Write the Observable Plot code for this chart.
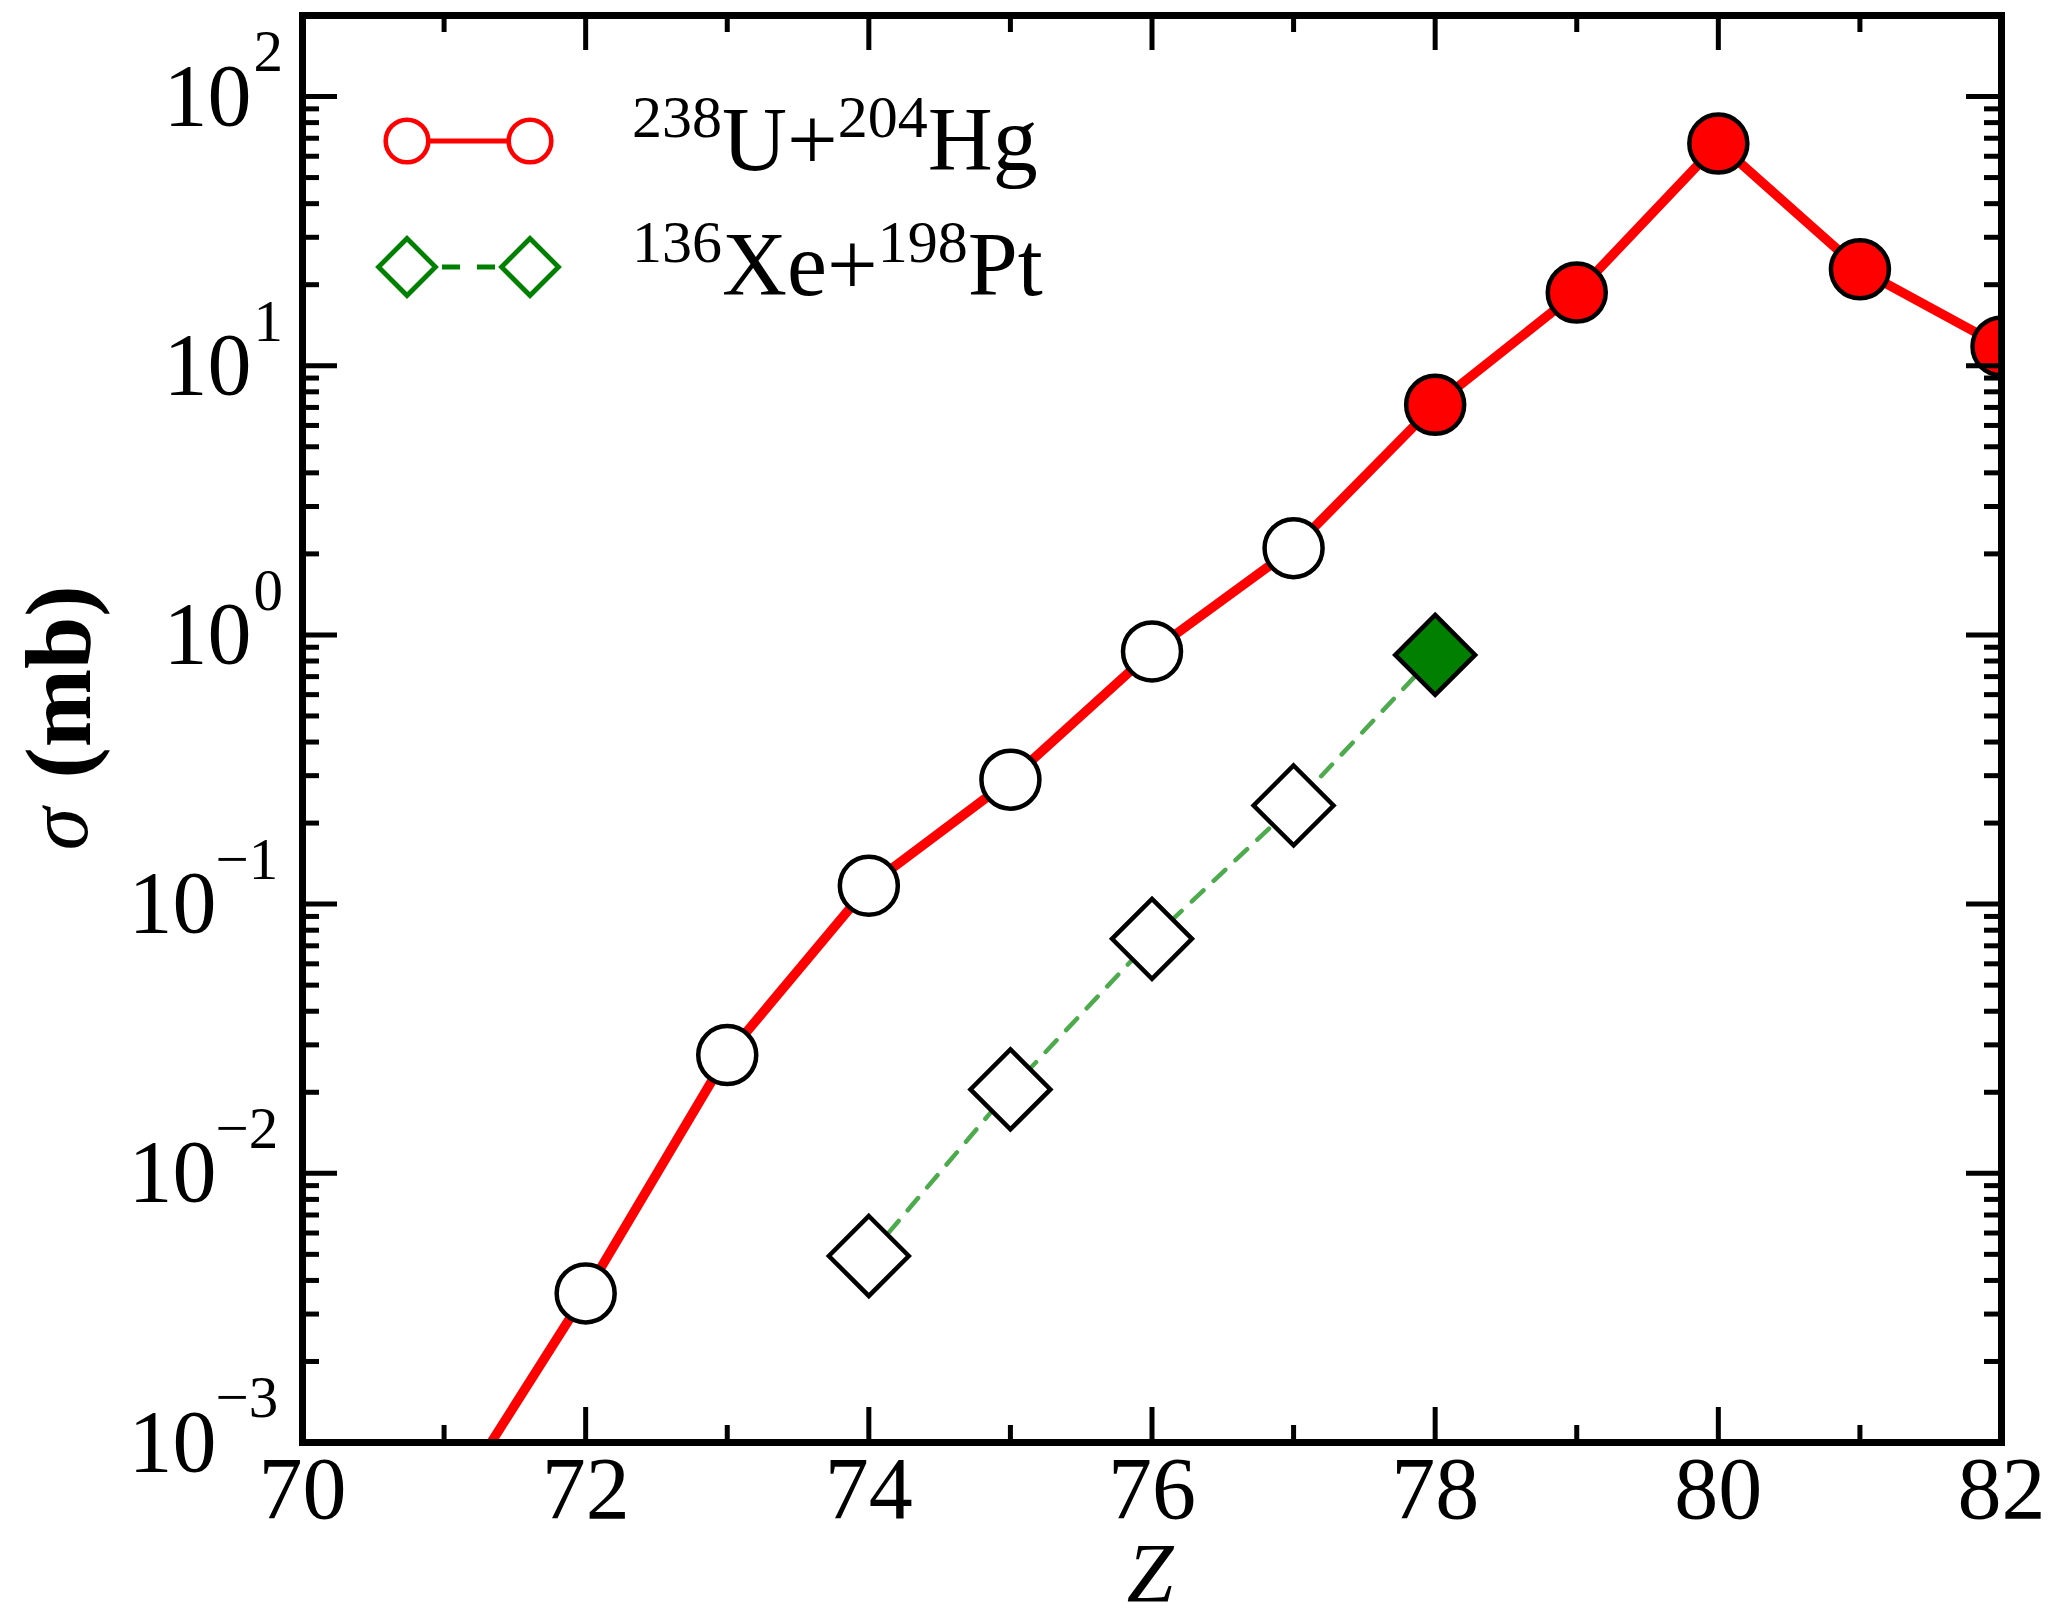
<!DOCTYPE html>
<html>
<head>
<meta charset="utf-8">
<script src="https://cdn.jsdelivr.net/npm/d3@7"></script>
<script src="https://cdn.jsdelivr.net/npm/@observablehq/plot@0.6"></script>
<style>
html, body { margin: 0; padding: 0; background: #fff; }
#chart svg { display: block; }
</style>
</head>
<body>
<div id="chart"></div>
<script>
// ---- data ----
const zU = [71, 72, 73, 74, 75, 76, 77, 78, 79, 80, 81, 82];
const sigmaU = [5.3e-4, 3.58e-3, 0.0275, 0.117, 0.290, 0.868, 2.10, 7.16, 18.7, 66.9, 22.8, 11.8];
const filledU = [false, false, false, false, false, false, false, true, true, true, true, true];

const zXe = [74, 75, 76, 77, 78];
const sigmaXe = [4.93e-3, 0.0205, 0.0743, 0.2325, 0.843];
const filledXe = [false, false, false, false, true];

const xMajorTicks = [70, 72, 74, 76, 78, 80, 82];
const xMinorTicks = [71, 73, 75, 77, 79, 81];
const yExponents = [-3, -2, -1, 0, 1, 2];
const yMinorMultipliers = [2, 3, 4, 5, 6, 7, 8, 9];

const legendRows = [
  {m1: "238", e1: "U", m2: "204", e2: "Hg"},
  {m1: "136", e1: "Xe", m2: "198", e2: "Pt"}
];

const FONT = "'Liberation Serif', 'Times New Roman', serif";

// ---- tables ----
const U = zU.map((z, i) => ({z, sigma: sigmaU[i], filled: filledU[i]}));
const Xe = zXe.map((z, i) => ({z, sigma: sigmaXe[i], filled: filledXe[i]}));
const yMajor = yExponents.map(e => ({e, v: Math.pow(10, e)}));
const yMinor = yExponents.slice(0, -1).flatMap(e => yMinorMultipliers.map(m => m * Math.pow(10, e)));

// layout
const W = 2053, H = 1621;
const mL = 302, mR = 52, mT = 15, mB = 179;
const plotW = W - mL - mR, plotH = H - mT - mB;
const majorLen = 35, minorLen = 17;

function expText(e) { return e < 0 ? "\u2212" + (-e) : String(e); }

function legendMark(index, scales, values, dims) {
  const g = d3.create("svg:g").attr("font-family", FONT);
  const ox = dims.marginLeft, oy = dims.marginTop;
  const sx1 = ox + 105, sx2 = ox + 228;
  const r1 = oy + 126, r2 = oy + 252;
  // row 1: red line with open circles
  g.append("line").attr("x1", sx1).attr("x2", sx2).attr("y1", r1).attr("y2", r1)
    .attr("stroke", "#ff0000").attr("stroke-width", 5);
  for (const cx of [sx1, sx2]) {
    g.append("circle").attr("cx", cx).attr("cy", r1).attr("r", 21.3)
      .attr("fill", "white").attr("stroke", "#ff0000").attr("stroke-width", 4.6);
  }
  // row 2: green dashed with open diamonds
  g.append("line").attr("x1", sx1 + 35).attr("x2", sx2 - 35).attr("y1", r2).attr("y2", r2)
    .attr("stroke", "#008000").attr("stroke-width", 5).attr("stroke-dasharray", "18,17");
  const h = 28.5;
  for (const cx of [sx1, sx2]) {
    g.append("path").attr("d", `M${cx},${r2 - h}L${cx + h},${r2}L${cx},${r2 + h}L${cx - h},${r2}Z`)
      .attr("fill", "white").attr("stroke", "#008000").attr("stroke-width", 4.8);
  }
  // texts with superscripts
  const baselines = [oy + 155, oy + 280];
  legendRows.forEach((row, i) => {
    const t = g.append("text").attr("x", ox + 330).attr("y", baselines[i])
      .attr("text-anchor", "start").attr("font-size", 90).attr("fill", "black");
    t.append("tspan").attr("font-size", 60).attr("dy", -33).text(row.m1);
    t.append("tspan").attr("dy", 33).text(row.e1 + "+");
    t.append("tspan").attr("font-size", 60).attr("dy", -33).text(row.m2);
    t.append("tspan").attr("dy", 33).text(row.e2);
  });
  return g.node();
}

const chart = Plot.plot({
  width: W, height: H,
  marginLeft: mL, marginRight: mR, marginTop: mT, marginBottom: mB,
  style: {fontFamily: FONT, background: "white", color: "black"},
  x: {domain: [70, 82], axis: null},
  y: {type: "log", domain: [1e-3, 200], axis: null},
  marks: [
    // series lines
    Plot.line(U, {x: "z", y: "sigma", stroke: "#ff0000", strokeWidth: 9.5, clip: true}),
    Plot.line(Xe, {x: "z", y: "sigma", stroke: "#4daa4d", strokeWidth: 4.5, strokeDasharray: "16,14", clip: true}),
    // markers
    Plot.dot(U, {filter: d => !d.filled, x: "z", y: "sigma", r: 29, fill: "white", stroke: "black", strokeWidth: 4.5, clip: true}),
    Plot.dot(U, {filter: d => d.filled, x: "z", y: "sigma", r: 29, fill: "#ff0000", stroke: "black", strokeWidth: 4.5, clip: true}),
    Plot.dot(Xe, {filter: d => !d.filled, x: "z", y: "sigma", symbol: "diamond2", r: 36, fill: "white", stroke: "black", strokeWidth: 4.5, clip: true}),
    Plot.dot(Xe, {filter: d => d.filled, x: "z", y: "sigma", symbol: "diamond2", r: 36, fill: "#007f00", stroke: "black", strokeWidth: 4.5, clip: true}),
    // inward ticks: bottom & top
    Plot.ruleX(xMajorTicks, {x: d => d, insetTop: plotH - majorLen, stroke: "black", strokeWidth: 5}),
    Plot.ruleX(xMinorTicks, {x: d => d, insetTop: plotH - minorLen, stroke: "black", strokeWidth: 5}),
    Plot.ruleX(xMajorTicks, {x: d => d, insetBottom: plotH - majorLen, stroke: "black", strokeWidth: 5}),
    Plot.ruleX(xMinorTicks, {x: d => d, insetBottom: plotH - minorLen, stroke: "black", strokeWidth: 5}),
    // inward ticks: left & right
    Plot.ruleY(yMajor, {y: "v", insetRight: plotW - majorLen, stroke: "black", strokeWidth: 5}),
    Plot.ruleY(yMinor, {y: d => d, insetRight: plotW - minorLen, stroke: "black", strokeWidth: 5}),
    Plot.ruleY(yMajor, {y: "v", insetLeft: plotW - majorLen, stroke: "black", strokeWidth: 5}),
    Plot.ruleY(yMinor, {y: d => d, insetLeft: plotW - minorLen, stroke: "black", strokeWidth: 5}),
    // x tick labels
    Plot.axisX(xMajorTicks, {anchor: "bottom", tickSize: 0, tickPadding: 13, fontSize: 88, label: null, fontFamily: FONT, tickFormat: d => String(d)}),
    // y tick labels: 10^e
    Plot.text(yMajor.filter(d => d.e >= 0), {y: "v", text: () => "10", frameAnchor: "left", textAnchor: "end", lineAnchor: "middle", dx: -51, fontSize: 88}),
    Plot.text(yMajor.filter(d => d.e >= 0), {y: "v", text: d => expText(d.e), frameAnchor: "left", textAnchor: "start", lineAnchor: "middle", dx: -49, dy: -44, fontSize: 59}),
    Plot.text(yMajor.filter(d => d.e < 0), {y: "v", text: () => "10", frameAnchor: "left", textAnchor: "end", lineAnchor: "middle", dx: -86, fontSize: 88}),
    Plot.text(yMajor.filter(d => d.e < 0), {y: "v", text: d => expText(d.e), frameAnchor: "left", textAnchor: "start", lineAnchor: "middle", dx: -87, dy: -44, fontSize: 59}),
    // axis titles
    Plot.text(["Z"], {text: d => d, frameAnchor: "bottom", textAnchor: "middle", lineAnchor: "middle", dy: 133, dx: -2, fontSize: 84, fontStyle: "italic"}),
    Plot.text(["(mb)"], {text: d => d, frameAnchor: "left", textAnchor: "middle", rotate: -90, lineAnchor: "middle", dx: -243, dy: -47, fontSize: 94, fontWeight: "bold"}),
    Plot.text(["\u03C3"], {text: d => d, frameAnchor: "left", textAnchor: "middle", rotate: -90, lineAnchor: "middle", dx: -243, dy: 100, fontSize: 86, fontStyle: "italic"}),
    // legend
    legendMark,
    // frame
    Plot.frame({stroke: "black", strokeWidth: 7})
  ]
});
document.getElementById("chart").appendChild(chart);
</script>
</body>
</html>
